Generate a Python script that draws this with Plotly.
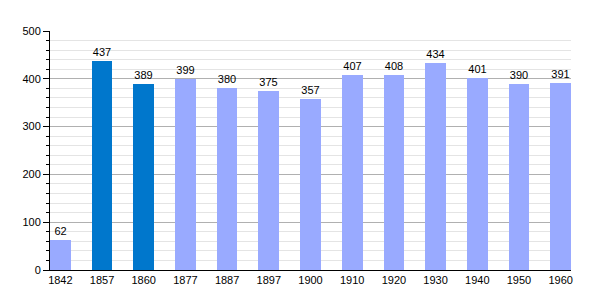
import plotly.graph_objects as go

years = ["1842", "1857", "1860", "1877", "1887", "1897", "1900", "1910", "1920", "1930", "1940", "1950", "1960"]
population = [62, 437, 389, 399, 380, 375, 357, 407, 408, 434, 401, 390, 391]
colors = ["#99aaff", "#0077cc", "#0077cc"] + ["#99aaff"] * 10

idx = list(range(len(years)))
w = 0.497

fig = go.Figure(go.Bar(
    x=idx, y=population, width=w,
    marker=dict(color=colors, line=dict(width=0)),
    text=[str(v) for v in population], textposition="outside",
    textfont=dict(family="Liberation Sans, Arial", size=11, color="black"),
    cliponaxis=False,
))

fig.update_layout(
    width=600, height=300,
    margin=dict(l=50, r=29, t=31, b=30),
    paper_bgcolor="white", plot_bgcolor="white",
    font=dict(family="Liberation Sans, Arial", size=11, color="black"),
    showlegend=False,
    bargap=0,
)
fig.update_xaxes(
    range=[-w / 2, len(years) - 1 + w / 2],
    tickmode="array", tickvals=idx, ticktext=years,
    showline=True, linecolor="black", linewidth=1,
    showgrid=False, ticks="", zeroline=False,
)
fig.update_yaxes(
    range=[0, 500], tickmode="linear", tick0=0, dtick=100,
    showline=True, linecolor="black", linewidth=1,
    ticks="outside", ticklen=6, tickcolor="black",
    showgrid=True, gridcolor="#b0b0b0", gridwidth=1,
    zeroline=False,
    minor=dict(dtick=20, ticks="outside", ticklen=3, tickcolor="black",
               showgrid=True, gridcolor="#e4e4e4", gridwidth=1),
)

fig.write_html("out.html")
